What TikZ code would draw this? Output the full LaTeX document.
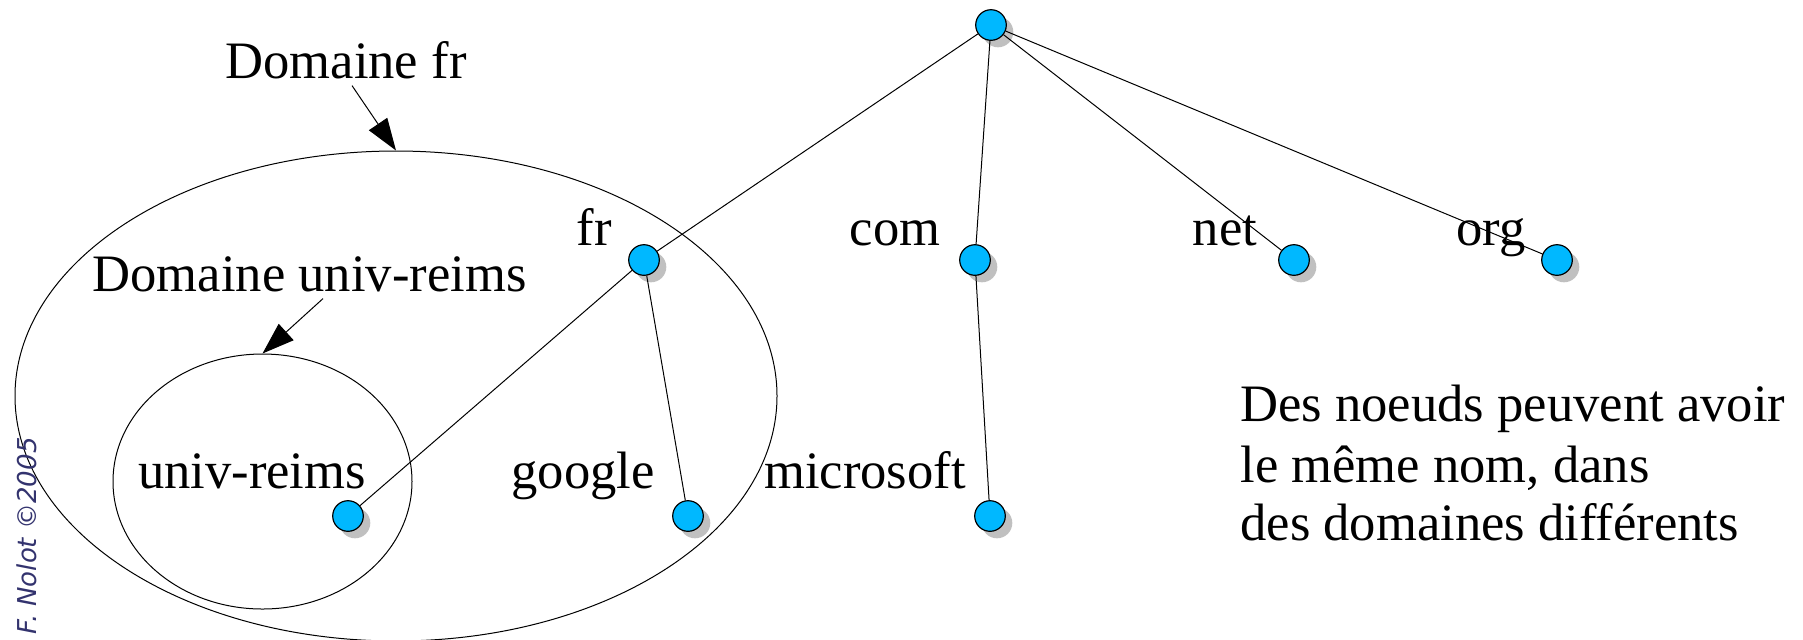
\documentclass[tikz,border=0pt]{standalone}
\usepackage{fontspec}
\setmainfont{Liberation Serif}
\newfontfamily\copyfont{DejaVu Sans}
\usetikzlibrary{shapes.geometric,shadows,arrows.meta}
\definecolor{nodecyan}{RGB}{0,184,255}
\definecolor{shadowgray}{RGB}{192,192,192}
\definecolor{copyblue}{RGB}{51,51,110}
\begin{document}
\begin{tikzpicture}[x=0.5pt,y=-0.5pt,
	dnsnode/.style={circle,draw,line width=0.6pt,fill=nodecyan,minimum size=15.3pt,inner sep=0pt,
		drop shadow={shadow xshift=3.5pt,shadow yshift=-3.5pt,fill=shadowgray,opacity=1}},
	lbl/.style={anchor=base,font=\fontsize{26.3pt}{30pt}\selectfont},
	note/.style={anchor=base west,inner sep=0pt,font=\fontsize{26.3pt}{30pt}\selectfont},
	domainring/.style={ellipse,draw,line width=0.5pt,inner sep=0pt},
	domarrow/.style={-{Triangle[length=16pt,width=11pt]},line width=0.5pt},
	link/.style={line width=0.5pt}]
\useasboundingbox (0,0) rectangle (1803,639);

	\node[domainring,minimum width=381pt,minimum height=245pt](domfr) at (396,396){};
	\node[domainring,minimum width=149.5pt,minimum height=127.5pt](domuniv) at (262.5,481.5){};

	\node[lbl](domfrlbl) at (346,78){Domaine fr};
	\draw[domarrow]([xshift=3pt]domfrlbl.south)--(domfr.north);
	\node[lbl](domunivlbl) at (309.5,291){Domaine univ-reims};
	\draw[domarrow]([xshift=6.75pt]domunivlbl.south)--(domuniv.north);

	\node[dnsnode](root) at (991,25){};
	\node[dnsnode](fr) at (644,260){};
	\node[dnsnode](com) at (975,260){};
	\node[dnsnode](net) at (1294,260){};
	\node[dnsnode](org) at (1557,260){};
	\node[dnsnode](univ) at (348,516){};
	\node[dnsnode](google) at (688,516){};
	\node[dnsnode](msft) at (990,516){};

	\draw[link](root)--(fr);
	\draw[link](root)--(com);
	\draw[link](root)--(net);
	\draw[link](root)--(org);
	\draw[link](fr)--(univ);
	\draw[link](fr)--(google);
	\draw[link](com)--(msft);

\node[lbl](frlbl) at (594.5,245){fr};
\node[lbl](comlbl) at (895,245){com};
\node[lbl](netlbl) at (1225,245){net};
\node[lbl](orglbl) at (1491,245){org};
\node[lbl](univlbl) at (252,488){univ-reims};
\node[lbl](googlelbl) at (583,488){google};
\node[lbl](msftlbl) at (865,488){microsoft};

\node[note](note1) at (1240,421){Des noeuds peuvent avoir};
\node[note](note2) at (1240,482){le même nom, dans};
\node[note](note3) at (1240,540){des domaines différents};

\node[rotate=90,anchor=base west,inner sep=0pt,text=copyblue,
	font=\copyfont\itshape\fontsize{13pt}{15pt}\selectfont](credit) at (36,635){F. Nolot ©2005};
\end{tikzpicture}
\end{document}
